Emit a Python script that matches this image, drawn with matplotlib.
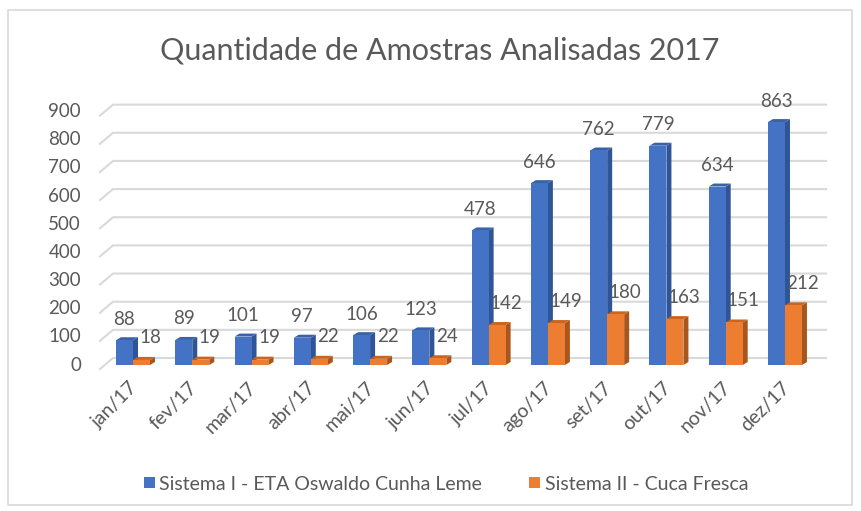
import matplotlib
matplotlib.use("Agg")
import matplotlib.pyplot as plt
from matplotlib.patches import Polygon, Rectangle, Patch

# Data
meses = ["jan/17", "fev/17", "mar/17", "abr/17", "mai/17", "jun/17",
         "jul/17", "ago/17", "set/17", "out/17", "nov/17", "dez/17"]
sistema1 = [88, 89, 101, 97, 106, 123, 478, 646, 762, 779, 634, 863]
sistema2 = [18, 19, 19, 22, 22, 24, 142, 149, 180, 163, 151, 212]
nome1 = "Sistema I - ETA Oswaldo Cunha Leme"
nome2 = "Sistema II - Cuca Fresca"
yticks = [0, 100, 200, 300, 400, 500, 600, 700, 800, 900]
titulo = "Quantidade de Amostras Analisadas 2017"

plt.rcParams['font.family'] = ['Lato', 'DejaVu Sans']
txt = "#595959"
azul, azul_lado, azul_topo = "#4472C4", "#2F5597", "#3A62A8"
lar, lar_lado, lar_topo = "#ED7D31", "#A9561E", "#C9651F"

W, H = 861, 511
fig = plt.figure(figsize=(W / 100, H / 100), dpi=100)
ax = fig.add_axes([0, 0, 1, 1])

# pixel mapping: category i centre at x=133+59.27*i, value 0 at y=365, 0.2815 px per unit
px_cat, x0 = 59.27, 133
px_val, y0 = 0.2815, 365
ax.set_xlim(-x0 / px_cat, (W - x0) / px_cat)
ax.set_ylim(-(H - y0) / px_val, y0 / px_val)
ax.axis("off")

def xd(px):
    return (px - x0) / px_cat

def dy(px):
    return px / px_val

# chart border
ax.add_patch(Rectangle((xd(8), -(505 - y0) / px_val), (852 - 8) / px_cat, (505 - 10) / px_val,
                       fill=False, edgecolor="#d9d9d9", lw=1.2, zorder=0))

# back wall gridlines
for v in yticks:
    ax.plot([xd(100), xd(113), xd(826)], [v - dy(4), v + dy(7), v + dy(7)],
            color="#d9d9d9", lw=1.5, zorder=1)
    ax.text(xd(81), v, str(v), ha="right", va="center", fontsize=13.5, color=txt)

w = 17 / px_cat
ddx = 5 / px_cat
ddy = dy(3)

def barra3d(x, h, c, cl, ct):
    ax.add_patch(Polygon([(x + w, 0), (x + w + ddx, ddy), (x + w + ddx, h + ddy), (x + w, h)],
                         closed=True, facecolor=cl, edgecolor="none", zorder=3))
    ax.add_patch(Polygon([(x, h), (x + ddx, h + ddy), (x + w + ddx, h + ddy), (x + w, h)],
                         closed=True, facecolor=ct, edgecolor="none", zorder=3))
    ax.bar(x, h, width=w, align="edge", color=c, zorder=3)

for i in range(len(meses)):
    barra3d(i - w, sistema1[i], azul, azul_lado, azul_topo)
    barra3d(i, sistema2[i], lar, lar_lado, lar_topo)
    ax.text(i - w / 2, sistema1[i] + dy(21), str(sistema1[i]), ha="center", va="center",
            fontsize=13.5, color=txt, zorder=4)
    ax.text(i + w / 2 + 9 / px_cat, sistema2[i] + dy(22), str(sistema2[i]), ha="center",
            va="center", fontsize=13.5, color=txt, zorder=4)
    ax.text(i + 0.03, -dy(20), meses[i], rotation=45, rotation_mode="anchor",
            ha="right", va="center", fontsize=14, color=txt)

fig.text(0.511, 1 - 50 / H, titulo, ha="center", va="center", fontsize=22, color=txt)

handles = [Patch(facecolor=azul, label=nome1), Patch(facecolor=lar, label=nome2)]
leg = fig.legend(handles=handles, loc="center", bbox_to_anchor=(0.518, 1 - 484 / H), ncol=2,
                 frameon=False, fontsize=14, handlelength=0.55, handleheight=0.55,
                 handletextpad=0.25, columnspacing=2.4)
for t in leg.get_texts():
    t.set_color(txt)

fig.savefig("out.png", dpi=100)
